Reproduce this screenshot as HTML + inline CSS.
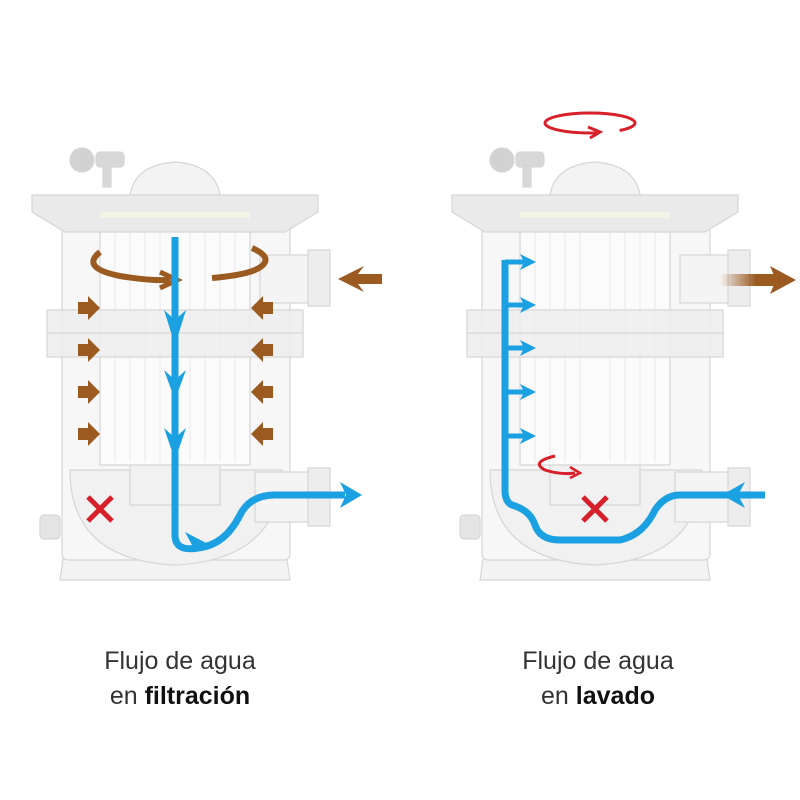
<!DOCTYPE html>
<html><head><meta charset="utf-8"><style>
html,body{margin:0;padding:0;background:#fff;}
svg{display:block;}
text{font-family:"Liberation Sans",sans-serif;fill:#333;}
</style></head><body>
<svg width="800" height="800" viewBox="0 0 800 800" xmlns="http://www.w3.org/2000/svg">
<defs>
<g id="filt" stroke="#d6d6d6" stroke-width="1.2">
  <path d="M65 545 L285 545 L290 580 L60 580 Z" fill="#f3f3f3"/>
  <rect x="62" y="225" width="228" height="335" rx="6" fill="#f7f7f7"/>
  <path d="M70 470 Q70 560 175 565 Q280 560 282 470 Z" fill="#f1f1f1"/>
  <rect x="100" y="210" width="150" height="255" fill="#fbfbfb"/>
  <g stroke="#e8e8e8" stroke-width="1">
    <line x1="115" y1="215" x2="115" y2="462"/><line x1="130" y1="215" x2="130" y2="462"/>
    <line x1="145" y1="215" x2="145" y2="462"/><line x1="160" y1="215" x2="160" y2="462"/>
    <line x1="190" y1="215" x2="190" y2="462"/><line x1="205" y1="215" x2="205" y2="462"/>
    <line x1="220" y1="215" x2="220" y2="462"/><line x1="235" y1="215" x2="235" y2="462"/>
  </g>
  <rect x="130" y="465" width="90" height="40" fill="#f1f1f1"/>
  <rect x="47" y="310" width="256" height="47" fill="#ededed" fill-opacity="0.85"/>
  <line x1="47" y1="333" x2="303" y2="333"/>
  <rect x="260" y="255" width="50" height="48" fill="#f4f4f4"/>
  <rect x="308" y="250" width="22" height="56" fill="#ededed"/>
  <rect x="255" y="472" width="55" height="50" fill="#f4f4f4"/>
  <rect x="308" y="468" width="22" height="58" fill="#ededed"/>
  <rect x="40" y="515" width="20" height="24" rx="4" fill="#e4e4e4"/>
  <path d="M32 195 L318 195 L318 212 L285 232 L65 232 L32 212 Z" fill="#eaeaea"/>
  <path d="M130 195 Q135 165 175 162 Q215 165 220 195 Z" fill="#f3f3f3"/>
  <rect x="100" y="212" width="150" height="6" fill="#f4f4e6" stroke="none"/>
  <rect x="96" y="152" width="28" height="15" rx="4" fill="#d8d8d8"/>
  <circle cx="82" cy="160" r="12" fill="#d2d2d2"/>
  <rect x="103" y="165" width="8" height="22" fill="#d8d8d8"/>
</g>
<linearGradient id="bg" x1="0" x2="1"><stop offset="0" stop-color="#9a5a20" stop-opacity="0"/><stop offset="0.6" stop-color="#9a5a20"/></linearGradient>
</defs>

<use href="#filt"/>
<use href="#filt" transform="translate(420,0)"/>

<g fill="#9a5a20">
  <g id="rb"><path d="M78 302 L88 302 L88 296 L100 308 L88 320 L88 314 L78 314 Z"/></g>
  <use href="#rb" transform="translate(0,42)"/><use href="#rb" transform="translate(0,84)"/><use href="#rb" transform="translate(0,126)"/>
  <g id="lb"><path d="M273 302 L263 302 L263 296 L251 308 L263 320 L263 314 L273 314 Z"/></g>
  <use href="#lb" transform="translate(0,42)"/><use href="#lb" transform="translate(0,84)"/><use href="#lb" transform="translate(0,126)"/>
  <path d="M382 274 L358 274 L364 266 L338 279 L364 292 L358 284 L382 284 Z"/>
</g>
<path d="M100 252 Q80 268 120 276 Q150 281 170 280" fill="none" stroke="#9a5a20" stroke-width="6"/>
<path d="M160 272 L177 280 L160 288" fill="none" stroke="#9a5a20" stroke-width="5"/>
<path d="M212 278 Q260 274 265 262 Q268 255 252 248" fill="none" stroke="#9a5a20" stroke-width="6"/>

<path d="M175 237 L175 535 Q175 552 198 548 Q225 545 240 515 Q250 495 275 495 L345 495" fill="none" stroke="#1ba1e2" stroke-width="7"/>
<g fill="#1ba1e2">
  <path d="M164 310 L175 320 L186 310 L175 345 Z"/>
  <path d="M164 370 L175 380 L186 370 L175 400 Z"/>
  <path d="M164 428 L175 438 L186 428 L175 460 Z"/>
  <path d="M340 482 L362 495 L340 508 L346 495 Z"/>
  <path d="M185 532 L210 545 L185 552 L192 545 Z"/>
</g>
<path d="M88 497 L112 521 M112 497 L88 521" stroke="#d8202a" stroke-width="5"/>

<ellipse cx="590" cy="123" rx="45" ry="10" fill="none" stroke="#d8202a" stroke-width="3" stroke-dasharray="200 22" stroke-dashoffset="-40"/>
<path d="M588 127 L600 132 L590 138" fill="none" stroke="#d8202a" stroke-width="3"/>
<path d="M555 456 Q530 462 545 470 Q560 475 575 473" fill="none" stroke="#d8202a" stroke-width="3"/>
<path d="M570 467 L580 473 L570 478" fill="none" stroke="#d8202a" stroke-width="2.5"/>
<path d="M583 497 L607 521 M607 497 L583 521" stroke="#d8202a" stroke-width="5"/>
<rect x="720" y="274" width="60" height="12" fill="url(#bg)"/>
<path d="M770 266 L796 280 L770 294 L776 280 Z" fill="#9a5a20"/>

<path d="M765 495 L680 495 Q665 495 655 510 Q643 535 620 540 L560 540 Q540 540 535 525 Q530 510 512 505 Q505 502 505 490 L505 260" fill="none" stroke="#1ba1e2" stroke-width="7"/>
<g stroke="#1ba1e2" stroke-width="5" fill="none">
  <path d="M505 262 L530 262"/><path d="M505 305 L530 305"/><path d="M505 348 L530 348"/><path d="M505 392 L530 392"/><path d="M505 436 L530 436"/>
</g>
<g fill="#1ba1e2">
  <path d="M520 254 L536 262 L520 270 L524 262 Z"/>
  <path d="M520 297 L536 305 L520 313 L524 305 Z"/>
  <path d="M520 340 L536 348 L520 356 L524 348 Z"/>
  <path d="M520 384 L536 392 L520 400 L524 392 Z"/>
  <path d="M520 428 L536 436 L520 444 L524 436 Z"/>
  <path d="M745 482 L722 495 L745 508 L738 495 Z"/>
</g>

<text x="180" y="669" font-size="25" text-anchor="middle">Flujo de agua</text>
<text x="180" y="704" font-size="25" text-anchor="middle">en <tspan font-weight="bold" fill="#111">filtración</tspan></text>
<text x="598" y="669" font-size="25" text-anchor="middle">Flujo de agua</text>
<text x="598" y="704" font-size="25" text-anchor="middle">en <tspan font-weight="bold" fill="#111">lavado</tspan></text>
</svg>
</body></html>
